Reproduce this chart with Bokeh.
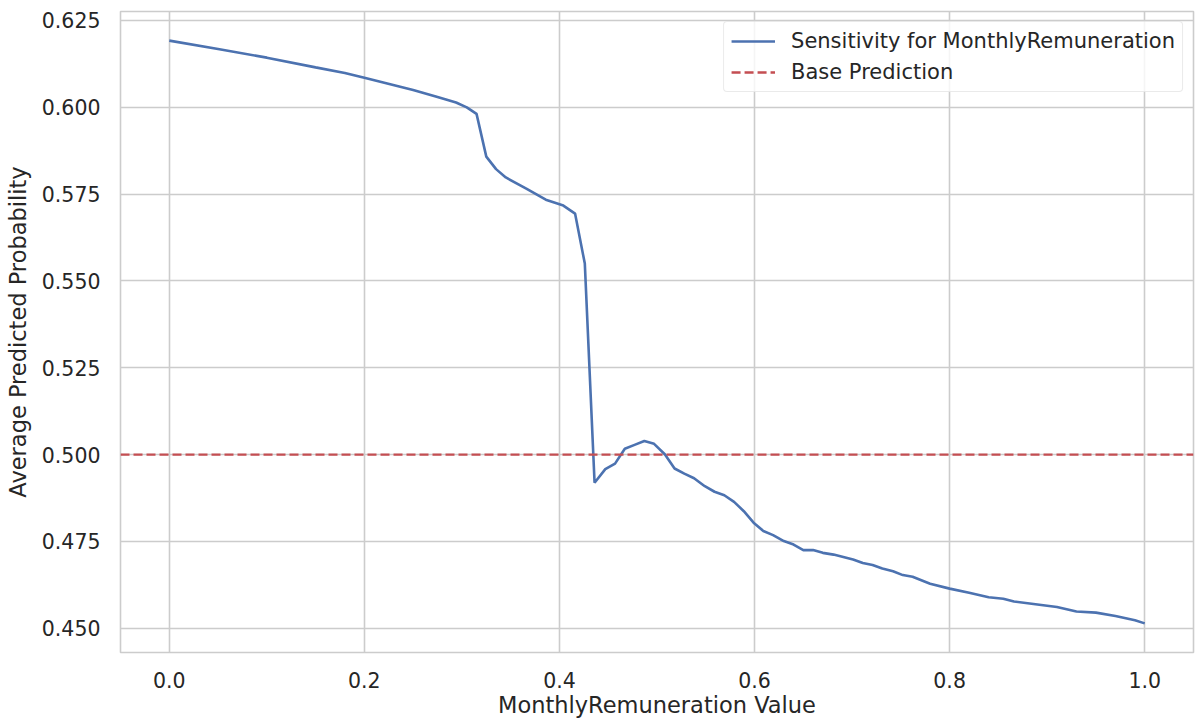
from bokeh.plotting import figure
from bokeh.models import FixedTicker, PrintfTickFormatter, Range1d, Legend, LegendItem
from bokeh.embed import file_html
from bokeh.resources import INLINE

# ---- data ----
feature_values = [0.0, 0.05, 0.10, 0.15, 0.18, 0.20, 0.25, 0.275, 0.294, 0.305,
                  0.315, 0.325, 0.335, 0.345, 0.366, 0.386, 0.404, 0.416, 0.426, 0.436,
                  0.447, 0.457, 0.467, 0.477, 0.487, 0.497, 0.508, 0.518, 0.528, 0.538,
                  0.549, 0.559, 0.569, 0.579, 0.589, 0.599, 0.609, 0.619, 0.630, 0.640,
                  0.650, 0.660, 0.670, 0.681, 0.691, 0.701, 0.711, 0.721, 0.731, 0.742,
                  0.752, 0.762, 0.780, 0.800, 0.820, 0.840, 0.855, 0.866, 0.886, 0.910,
                  0.930, 0.950, 0.970, 0.990, 1.0]
avg_probability = [0.6192, 0.6168, 0.6143, 0.6115, 0.6099, 0.6085, 0.6050, 0.6030, 0.6014, 0.6000,
                   0.5981, 0.5858, 0.5822, 0.5798, 0.5766, 0.5734, 0.5717, 0.5694, 0.5550, 0.4919,
                   0.4958, 0.4974, 0.5017, 0.5028, 0.5039, 0.5031, 0.5001, 0.4960, 0.4945, 0.4932,
                   0.4909, 0.4893, 0.4883, 0.4864, 0.4837, 0.4804, 0.4780, 0.4768, 0.4751, 0.4741,
                   0.4725, 0.4725, 0.4717, 0.4712, 0.4705, 0.4698, 0.4688, 0.4682, 0.4672, 0.4664,
                   0.4653, 0.4648, 0.4628, 0.4614, 0.4602, 0.4589, 0.4585, 0.4577, 0.4570, 0.4561,
                   0.4548, 0.4545, 0.4535, 0.4523, 0.4514]
base_prediction = 0.5
x_ticks = [0.0, 0.2, 0.4, 0.6, 0.8, 1.0]
y_ticks = [0.450, 0.475, 0.500, 0.525, 0.550, 0.575, 0.600, 0.625]

series_label = "Sensitivity for MonthlyRemuneration"
base_label = "Base Prediction"
x_title = "MonthlyRemuneration Value"
y_title = "Average Predicted Probability"

BLUE = "#4C72B0"
RED = "#C44E52"
TEXT = "#262626"
GRID = "#cccccc"
FONT = "DejaVu Sans"

# axis limits with 5% margins like matplotlib
x_lo, x_hi = min(feature_values), max(feature_values)
x_pad = 0.05 * (x_hi - x_lo)
y_lo, y_hi = min(avg_probability), max(avg_probability)
y_pad = 0.05 * (y_hi - y_lo)
x_start, x_end = x_lo - x_pad, x_hi + x_pad

p = figure(width=1198, height=722, output_backend="svg", toolbar_location=None,
           x_range=Range1d(x_start, x_end), y_range=Range1d(y_lo - y_pad, y_hi + y_pad))
p.min_border_left = 120
p.min_border_right = 5
p.min_border_top = 11
p.min_border_bottom = 70
p.background_fill_color = "white"
p.border_fill_color = "white"
p.outline_line_color = GRID
p.outline_line_width = 1.6

r_line = p.line(feature_values, avg_probability, line_color=BLUE, line_width=2.6)
# horizontal base line across the whole x range (like axhline)
r_base = p.line([x_start, x_end], [base_prediction, base_prediction],
                line_color=RED, line_width=2.4, line_dash="9 4")

for ax in (p.xaxis[0], p.yaxis[0]):
    ax.axis_line_color = None
    ax.major_tick_line_color = None
    ax.minor_tick_line_color = None
    ax.major_tick_out = 0
    ax.major_tick_in = 0
    ax.minor_tick_out = 0
    ax.minor_tick_in = 0
    ax.major_label_text_font = FONT
    ax.major_label_text_font_size = "20.5px"
    ax.major_label_text_color = TEXT
    ax.axis_label_text_font = FONT
    ax.axis_label_text_font_size = "22.5px"
    ax.axis_label_text_font_style = "normal"
    ax.axis_label_text_color = TEXT

p.xaxis.ticker = FixedTicker(ticks=x_ticks)
p.yaxis.ticker = FixedTicker(ticks=y_ticks)
p.xaxis.formatter = PrintfTickFormatter(format="%.1f")
p.yaxis.formatter = PrintfTickFormatter(format="%.3f")
p.xaxis.axis_label = x_title
p.yaxis.axis_label = y_title
p.xaxis.major_label_standoff = 19
p.yaxis.major_label_standoff = 20
p.xaxis.axis_label_standoff = 1
p.yaxis.axis_label_standoff = 8

p.xgrid.ticker = FixedTicker(ticks=x_ticks)
p.ygrid.ticker = FixedTicker(ticks=y_ticks)
for g in (p.xgrid[0], p.ygrid[0]):
    g.grid_line_color = GRID
    g.grid_line_width = 1.6

legend = Legend(items=[LegendItem(label=series_label, renderers=[r_line]),
                       LegendItem(label=base_label, renderers=[r_base])],
                location="top_right")
legend.margin = 10
legend.padding = 7
legend.spacing = 7
legend.glyph_width = 44
legend.glyph_height = 22
legend.label_height = 22
legend.label_standoff = 16
legend.label_text_font = FONT
legend.label_text_font_size = "21px"
legend.label_text_color = TEXT
legend.border_line_color = "#d6d6d6"
legend.border_line_width = 1.2
legend.background_fill_color = "white"
legend.background_fill_alpha = 0.8
if "border_radius" in legend.properties():
    legend.border_radius = 4
p.add_layout(legend)

open("out.html", "w").write(file_html(p, INLINE))
